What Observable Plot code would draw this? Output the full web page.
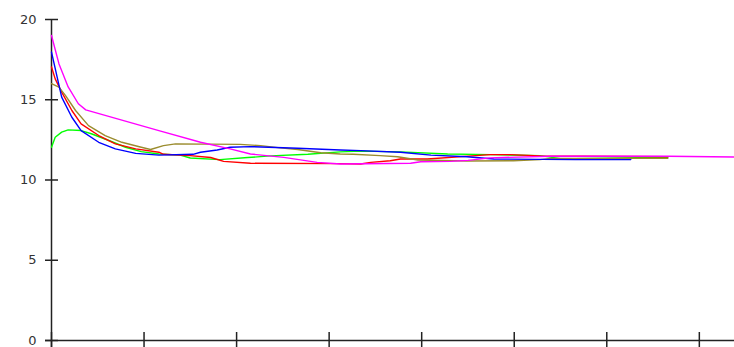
<!DOCTYPE html>
<html>
<head>
<meta charset="utf-8">
<script src="https://cdn.jsdelivr.net/npm/d3@7"></script>
<script src="https://cdn.jsdelivr.net/npm/@observablehq/plot@0.6"></script>
<style>
  html, body { margin: 0; padding: 0; background: #fff; }
  svg { display: block; }
</style>
</head>
<body>
<div id="chart"></div>
<script>
const xTicks = [0, 100, 200, 300, 400, 500, 600, 700];
const yTicks = [0, 5, 10, 15, 20];

const magentaX = [0, 8, 18, 29, 37, 116, 161, 193, 215, 251, 287, 312, 388, 399, 431, 450, 474, 539, 666, 738];
const magentaY = [19.0, 17.25, 15.8, 14.75, 14.37, 13.08, 12.35, 11.94, 11.62, 11.41, 11.1, 11.0, 11.04, 11.14, 11.16, 11.22, 11.38, 11.48, 11.48, 11.43];

const blueX = [0, 11, 22, 32, 51, 69, 91, 116, 153, 161, 179, 193, 215, 266, 312, 334, 377, 410, 449, 478, 566, 626];
const blueY = [17.97, 15.16, 13.91, 13.08, 12.35, 11.94, 11.66, 11.55, 11.6, 11.73, 11.87, 12.04, 12.08, 11.98, 11.87, 11.83, 11.73, 11.55, 11.45, 11.31, 11.27, 11.27];

const redX = [0, 4, 11, 22, 32, 51, 69, 91, 116, 121, 150, 172, 186, 215, 312, 334, 345, 366, 377, 406, 474, 496, 528, 666];
const redY = [17.04, 16.3, 15.48, 14.33, 13.5, 12.77, 12.25, 11.94, 11.73, 11.6, 11.52, 11.4, 11.16, 11.04, 11.02, 11.0, 11.1, 11.2, 11.31, 11.31, 11.58, 11.58, 11.5, 11.45];

const oliveX = [0, 8, 15, 26, 40, 58, 76, 97, 107, 121, 134, 204, 226, 247, 266, 291, 312, 326, 355, 374, 396, 449, 499, 528, 539, 666];
const oliveY = [16.0, 15.79, 15.27, 14.33, 13.39, 12.77, 12.35, 12.04, 11.9, 12.14, 12.25, 12.22, 12.14, 12.0, 11.9, 11.7, 11.62, 11.6, 11.52, 11.45, 11.25, 11.18, 11.2, 11.27, 11.35, 11.35];

const greenX = [0, 4, 11, 18, 32, 43, 62, 80, 97, 116, 139, 150, 182, 212, 237, 277, 312, 334, 377, 428, 474, 528, 550, 566, 666];
const greenY = [12.04, 12.66, 12.98, 13.12, 13.08, 12.88, 12.46, 12.04, 11.77, 11.62, 11.55, 11.37, 11.27, 11.4, 11.5, 11.6, 11.75, 11.8, 11.75, 11.62, 11.58, 11.52, 11.33, 11.33, 11.42];

const series = [
  {name: "green", color: "#00ff00", xs: greenX, ys: greenY},
  {name: "red", color: "#ff0000", xs: redX, ys: redY},
  {name: "olive", color: "#9a8c2e", xs: oliveX, ys: oliveY},
  {name: "blue", color: "#0000ff", xs: blueX, ys: blueY},
  {name: "magenta", color: "#ff00ff", xs: magentaX, ys: magentaY}
];

const lineMarks = series.map(s =>
  Plot.line(s.xs.map((x, i) => ({x, y: s.ys[i]})), {
    x: "x", y: "y", stroke: s.color, strokeWidth: 1.4
  })
);

const chart = Plot.plot({
  width: 734,
  height: 347,
  marginLeft: 51,
  marginRight: 0,
  marginTop: 19,
  marginBottom: 7,
  style: {fontFamily: "DejaVu Sans, Verdana, sans-serif", fontSize: "13px", color: "#333", background: "#fff"},
  x: {domain: [0, 738], label: null},
  y: {domain: [0, 20], label: null},
  marks: [
    Plot.axisX({ticks: xTicks, tickSize: 15, dy: -8, tickFormat: () => "", label: null, stroke: "#222", strokeWidth: 1.5}),
    Plot.axisY({ticks: yTicks, tickSize: 13, dx: 7, tickPadding: 9, label: null, stroke: "#222", strokeWidth: 1.5, fill: "#333"}),
    Plot.ruleY([0], {stroke: "#222", strokeWidth: 1.5, insetLeft: -6}),
    Plot.ruleX([0], {stroke: "#222", strokeWidth: 1.5, insetBottom: -8}),
    ...lineMarks
  ]
});

document.getElementById("chart").appendChild(chart);
</script>
</body>
</html>
